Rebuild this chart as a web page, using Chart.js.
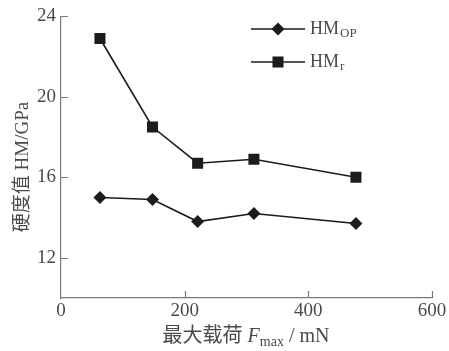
<!DOCTYPE html>
<html>
<head>
<meta charset="utf-8">
<script src="https://cdn.jsdelivr.net/npm/chart.js@4/dist/chart.umd.min.js"></script>
<style>
  html, body { margin: 0; padding: 0; background: #fff; }
  #wrap { width: 449px; height: 351px; }
</style>
</head>
<body>
<div id="wrap"><canvas id="c" width="449" height="351"></canvas></div>
<script>
// Maximum load (mN) and hardness values (GPa)
const loads = [63, 148, 221, 312, 477];
const hmOP = [15.0, 14.9, 13.8, 14.2, 13.7];
const hmR = [22.9, 18.5, 16.7, 16.9, 16.0];

// Axis ticks; the y axis is broken below 12, its origin shown as "0"
const xTicks = [0, 200, 400, 600];
const yTicks = [12, 16, 20, 24];
const yBreakMin = 10;

const INK = '#1c1c1c';
const TEXT = '#4a4a4a';
const AXIS = '#7a7a7a';
const SERIF = '"Liberation Serif", "DejaVu Serif", serif';
const CJK = '"Liberation Serif", "Noto Sans CJK SC", serif';

const series = [
  { label: 'HM', sub: 'OP', values: hmOP, pointStyle: 'rectRot', radius: 6.5 },
  { label: 'HM', sub: 'r', values: hmR, pointStyle: 'rect', radius: 7.8 }
];

const datasets = series.map(s => ({
  label: s.label + s.sub,
  data: loads.map((x, i) => ({ x: x, y: s.values[i] })),
  borderColor: INK,
  backgroundColor: INK,
  borderWidth: 1.6,
  pointStyle: s.pointStyle,
  pointRadius: s.radius,
  pointHoverRadius: s.radius,
  pointBorderWidth: 0,
  tension: 0
}));

// Inward tick marks, axis titles with subscripts and the legend
const decor = {
  id: 'decor',
  afterDraw(chart) {
    const ctx = chart.ctx;
    const xs = chart.scales.x, ys = chart.scales.y;
    const area = chart.chartArea;
    ctx.save();

    // tick marks pointing into the plot
    ctx.strokeStyle = AXIS;
    ctx.lineWidth = 1.2;
    ctx.beginPath();
    yTicks.forEach(v => {
      const py = Math.round(ys.getPixelForValue(v)) + 0.5;
      ctx.moveTo(area.left, py);
      ctx.lineTo(area.left + 7, py);
    });
    xTicks.filter(v => v > 0).forEach(v => {
      const px = Math.round(xs.getPixelForValue(v)) + 0.5;
      ctx.moveTo(px, area.bottom);
      ctx.lineTo(px, area.bottom - 7);
    });
    ctx.stroke();

    // y axis title
    ctx.fillStyle = TEXT;
    ctx.save();
    ctx.translate(23, 167);
    ctx.rotate(-Math.PI / 2);
    ctx.font = '19px ' + CJK;
    ctx.textAlign = 'center';
    ctx.textBaseline = 'middle';
    ctx.fillText('硬度值 HM/GPa', 0, 0);
    ctx.restore();

    // x axis title: 最大载荷 F_max / mN
    const parts = [
      { t: '最大载荷 ', font: '20px ' + CJK, dy: 0 },
      { t: 'F', font: 'italic 20px ' + SERIF, dy: 0 },
      { t: 'max', font: '14px ' + SERIF, dy: 4 },
      { t: ' / mN', font: '20px ' + SERIF, dy: 0 }
    ];
    let total = 0;
    parts.forEach(p => { ctx.font = p.font; p.w = ctx.measureText(p.t).width; total += p.w; });
    let tx = 246 - total / 2;
    ctx.textAlign = 'left';
    ctx.textBaseline = 'alphabetic';
    parts.forEach(p => { ctx.font = p.font; ctx.fillText(p.t, tx, 342 + p.dy); tx += p.w; });

    // legend
    const rows = [29, 62];
    chart.data.datasets.forEach((ds, i) => {
      const y = rows[i];
      ctx.strokeStyle = INK;
      ctx.lineWidth = 1.6;
      ctx.beginPath();
      ctx.moveTo(251, y);
      ctx.lineTo(305, y);
      ctx.stroke();
      ctx.fillStyle = INK;
      Chart.helpers.drawPoint(ctx, {
        pointStyle: ds.pointStyle, radius: ds.pointRadius, borderWidth: 0, rotation: 0
      }, 278, y);
      ctx.fillStyle = TEXT;
      ctx.font = '18px ' + SERIF;
      ctx.textBaseline = 'middle';
      ctx.fillText(series[i].label, 310, y);
      const w = ctx.measureText(series[i].label).width;
      ctx.font = '13px ' + SERIF;
      ctx.fillText(series[i].sub, 310 + w + 1, y + 5);
    });

    ctx.restore();
  }
};

new Chart(document.getElementById('c'), {
  type: 'line',
  data: { datasets: datasets },
  options: {
    responsive: false,
    animation: false,
    events: [],
    layout: { padding: { top: 16, right: 17, left: 0, bottom: 0 } },
    plugins: { legend: { display: false }, tooltip: { enabled: false } },
    scales: {
      x: {
        type: 'linear',
        min: 0,
        max: 600,
        afterBuildTicks(scale) { scale.ticks = xTicks.map(v => ({ value: v })); },
        afterFit(scale) { scale.height = 53; },
        grid: { display: true, drawOnChartArea: false, drawTicks: false },
        border: { display: true, color: AXIS, width: 1.2 },
        ticks: {
          color: TEXT,
          font: { family: SERIF, size: 19 },
          padding: 2,
          maxRotation: 0,
          autoSkip: false
        }
      },
      y: {
        type: 'linear',
        min: yBreakMin,
        max: 24,
        afterBuildTicks(scale) { scale.ticks = yTicks.map(v => ({ value: v })); },
        afterFit(scale) { scale.width = 61; },
        grid: { display: true, drawOnChartArea: false, drawTicks: false },
        border: { display: true, color: AXIS, width: 1.2 },
        ticks: {
          color: TEXT,
          font: { family: SERIF, size: 19 },
          padding: 5,
          autoSkip: false
        }
      }
    }
  },
  plugins: [decor]
});
</script>
</body>
</html>
